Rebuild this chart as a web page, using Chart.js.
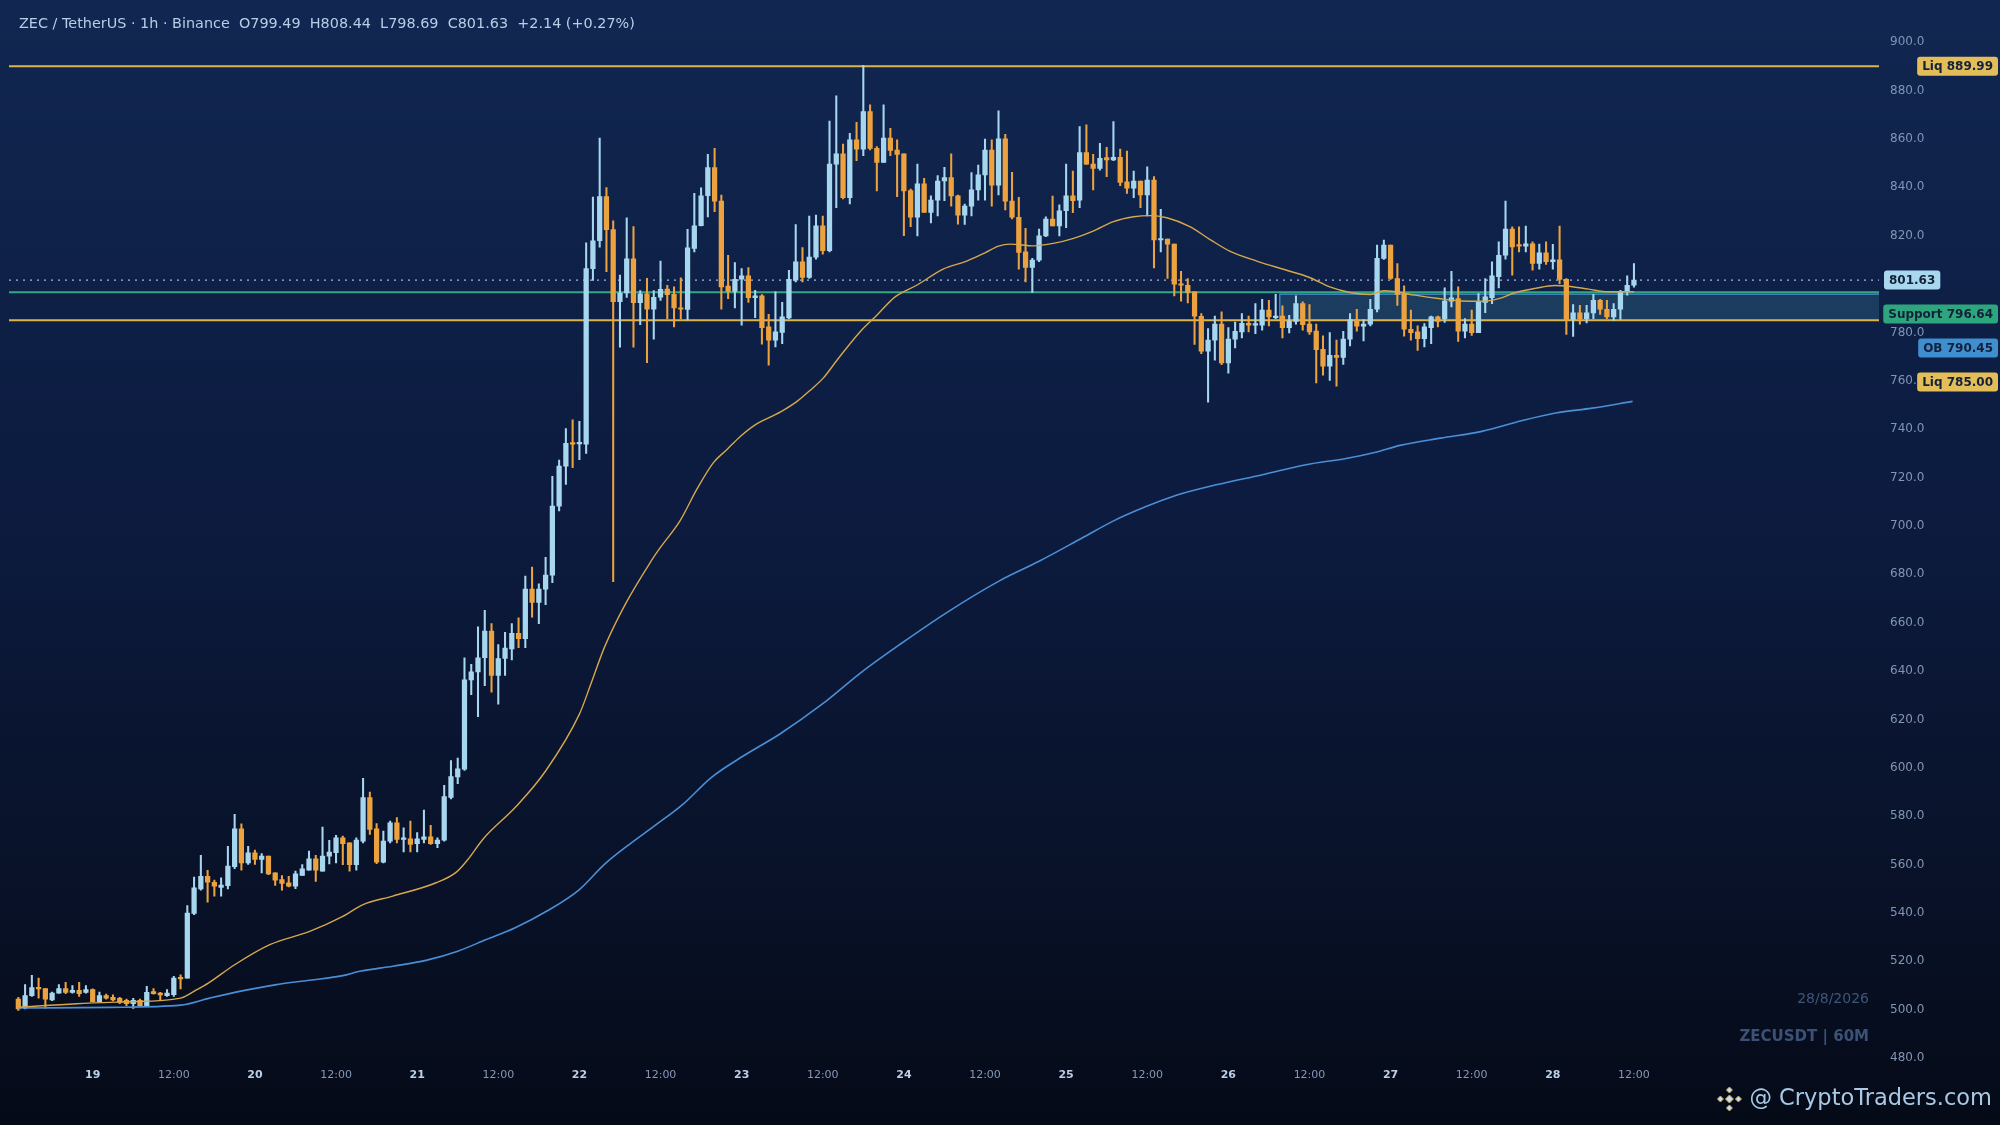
<!DOCTYPE html>
<html>
<head>
<meta charset="utf-8">
<title>ZEC / TetherUS 1h</title>
<script src="https://cdn.jsdelivr.net/npm/chart.js@4.4.1/dist/chart.umd.min.js"></script>
<style>
    html, body { margin: 0; padding: 0; background: #07101f; }
    #wrap { position: relative; width: 2000px; height: 1125px; }
</style>
</head>
<body>
<div id="wrap"><canvas id="zecChart"></canvas></div>
<script>
// 1h candles, 18 Aug 13:00 -> 28 Aug 12:00
const opens = [
    504.4, 500.7, 505.8, 509.2, 508.8, 504.1, 506.9, 508.8, 507.2, 508.0,
    507.2, 508.3, 503.3, 505.9, 505.1, 504.7, 503.9, 502.5, 503.9, 501.7,
    507.5, 506.9, 505.8, 506.2, 513.4, 513.1, 539.8, 550.0, 555.2, 552.7,
    550.6, 551.3, 559.1, 574.8, 560.7, 564.9, 562.1, 563.5, 556.6, 553.8,
    552.5, 551.1, 555.5, 557.7, 562.4, 557.3, 563.5, 564.9, 571.1, 569.0,
    560.0, 569.7, 587.7, 574.8, 561.0, 569.7, 577.3, 570.4, 570.7, 568.7,
    570.4, 571.5, 568.7, 570.1, 587.8, 596.2, 599.5, 636.4, 639.7, 645.5,
    656.5, 638.2, 645.2, 649.2, 655.6, 653.4, 673.9, 668.4, 673.9, 679.7,
    708.2, 724.7, 734.2, 733.9, 733.8, 806.4, 817.9, 836.2, 822.5, 792.7,
    796.3, 810.4, 792.3, 796.0, 789.6, 794.6, 797.9, 795.8, 790.1, 789.5,
    814.7, 824.1, 836.5, 848.1, 834.3, 799.2, 797.0, 802.0, 803.4, 794.4,
    795.1, 782.3, 776.8, 780.0, 786.0, 801.6, 809.2, 802.7, 811.1, 824.1,
    813.8, 849.6, 853.8, 835.7, 859.6, 855.8, 871.3, 856.1, 850.3, 860.3,
    855.4, 853.8, 838.6, 827.6, 841.4, 829.6, 834.7, 842.6, 844.0, 836.5,
    828.5, 832.2, 838.9, 845.1, 855.4, 840.9, 860.0, 834.3, 827.6, 813.3,
    806.9, 809.9, 819.9, 826.9, 824.0, 830.3, 836.5, 834.7, 854.3, 849.6,
    847.8, 852.3, 851.3, 852.4, 842.3, 839.6, 842.6, 836.8, 843.0, 818.2,
    818.6, 816.5, 799.9, 799.5, 796.8, 786.7, 772.3, 776.8, 783.4, 767.4,
    777.2, 780.2, 783.8, 783.0, 783.0, 789.2, 786.1, 786.8, 782.0, 784.6,
    791.9, 783.4, 780.6, 773.0, 766.0, 770.5, 769.7, 777.2, 785.3, 782.6,
    783.4, 789.6, 810.6, 816.1, 802.3, 796.1, 781.3, 780.2, 777.4, 782.0,
    786.4, 785.7, 792.9, 794.0, 780.5, 783.4, 779.9, 792.4, 794.4, 803.0,
    811.9, 822.7, 816.1, 815.7, 816.6, 808.5, 812.9, 809.2, 810.0, 802.0,
    785.4, 788.1, 785.7, 788.1, 793.3, 789.6, 786.4, 789.6, 797.0, 799.49,
];
const highs = [
    505.1, 510.4, 514.2, 513.1, 508.8, 507.3, 510.4, 511.3, 510.0, 511.3,
    510.0, 508.6, 507.3, 506.5, 506.2, 505.1, 504.4, 504.7, 504.4, 509.7,
    508.8, 507.2, 508.3, 513.8, 514.4, 543.1, 554.8, 563.8, 557.6, 553.6,
    554.5, 567.6, 580.8, 576.9, 567.6, 566.0, 564.6, 563.5, 556.6, 555.5,
    555.2, 557.3, 560.0, 565.6, 563.8, 575.5, 570.0, 572.1, 571.8, 569.0,
    571.1, 595.7, 590.0, 577.0, 573.9, 578.0, 579.4, 575.2, 578.0, 573.2,
    582.5, 576.2, 571.1, 592.8, 603.0, 604.0, 645.5, 642.8, 658.3, 665.1,
    659.6, 651.0, 656.0, 659.6, 662.0, 679.3, 683.0, 676.1, 687.0, 720.5,
    727.2, 740.2, 743.9, 743.3, 817.0, 836.0, 860.3, 839.9, 826.1, 803.7,
    827.4, 823.8, 797.3, 802.4, 797.3, 809.5, 799.5, 798.8, 802.6, 822.6,
    837.5, 839.8, 853.6, 856.1, 836.8, 811.9, 808.9, 806.4, 806.8, 797.4,
    795.6, 787.5, 796.8, 792.4, 805.7, 824.6, 815.1, 828.1, 828.5, 828.1,
    867.4, 877.8, 857.9, 862.3, 866.9, 890.4, 874.1, 856.8, 874.1, 864.4,
    859.6, 853.8, 839.3, 849.6, 843.7, 836.5, 844.8, 848.3, 853.8, 836.8,
    833.1, 846.1, 849.2, 859.9, 859.6, 871.6, 861.9, 846.2, 835.8, 823.0,
    810.6, 822.7, 827.8, 836.4, 832.7, 849.6, 846.7, 865.1, 865.8, 853.6,
    858.2, 856.5, 867.2, 855.8, 855.0, 846.7, 842.6, 848.5, 844.4, 830.9,
    818.6, 816.5, 805.3, 802.3, 796.8, 787.8, 781.6, 786.8, 788.5, 782.0,
    784.3, 787.8, 786.8, 791.9, 793.7, 793.3, 795.7, 791.0, 787.1, 795.1,
    792.6, 791.5, 783.4, 778.6, 779.9, 776.8, 780.5, 787.8, 789.5, 785.3,
    793.7, 816.1, 818.2, 816.1, 808.5, 799.3, 789.2, 782.7, 783.7, 786.8,
    786.8, 798.4, 805.3, 798.8, 785.7, 789.2, 796.1, 802.3, 809.2, 817.5,
    834.3, 823.7, 823.7, 824.0, 817.5, 816.5, 817.5, 816.4, 824.0, 802.3,
    791.5, 791.2, 791.2, 795.7, 793.7, 793.3, 791.9, 797.4, 803.4, 808.44,
];
const lows = [
    499.7, 500.3, 505.5, 504.8, 500.7, 503.8, 506.9, 506.6, 506.9, 505.5,
    506.9, 503.3, 503.0, 504.4, 503.7, 502.5, 501.7, 500.6, 501.7, 501.7,
    506.4, 503.9, 505.5, 505.5, 508.6, 513.1, 539.3, 549.4, 544.5, 547.0,
    547.0, 550.0, 558.3, 557.7, 560.1, 560.1, 556.6, 555.8, 551.4, 549.4,
    550.8, 550.1, 555.5, 557.7, 553.1, 557.3, 560.3, 560.7, 560.0, 557.3,
    557.7, 569.0, 572.5, 560.4, 560.7, 569.0, 569.0, 565.2, 565.2, 565.2,
    569.0, 568.3, 567.0, 569.7, 587.2, 593.5, 598.9, 630.3, 621.2, 634.0,
    631.3, 626.3, 638.2, 644.6, 649.7, 649.7, 662.3, 659.6, 667.5, 676.6,
    706.2, 717.2, 724.1, 727.4, 730.0, 801.5, 815.2, 805.1, 677.0, 773.9,
    794.5, 773.9, 783.2, 767.5, 777.2, 793.2, 785.7, 782.3, 785.7, 785.1,
    813.3, 824.0, 827.8, 829.9, 789.6, 794.0, 790.1, 783.0, 792.4, 786.1,
    775.1, 766.5, 774.0, 775.4, 785.7, 800.9, 800.9, 802.3, 810.3, 812.4,
    813.3, 831.6, 835.2, 833.1, 851.0, 853.1, 855.4, 838.5, 850.3, 853.1,
    836.1, 820.0, 823.7, 819.9, 829.6, 825.3, 828.2, 834.5, 832.2, 824.8,
    824.7, 828.2, 834.7, 834.7, 832.2, 836.8, 830.6, 826.9, 806.2, 800.9,
    796.5, 809.2, 819.6, 824.0, 819.9, 823.3, 829.5, 831.6, 849.5, 838.9,
    847.1, 844.4, 851.0, 840.7, 837.5, 835.7, 831.6, 828.2, 806.7, 813.3,
    802.3, 795.1, 792.9, 792.2, 775.0, 771.2, 751.2, 768.5, 766.7, 763.2,
    773.6, 777.7, 780.2, 779.5, 780.9, 782.7, 785.7, 777.7, 779.8, 783.4,
    780.9, 779.2, 759.1, 762.3, 760.2, 757.8, 766.8, 774.4, 780.5, 776.5,
    782.7, 788.5, 810.2, 801.9, 791.2, 778.5, 776.8, 772.6, 774.0, 775.4,
    782.3, 784.1, 790.5, 776.3, 777.7, 778.8, 779.9, 788.2, 791.9, 798.4,
    810.3, 803.7, 813.3, 813.3, 805.7, 806.2, 808.1, 806.2, 800.2, 779.2,
    778.4, 783.4, 783.9, 785.7, 787.4, 785.7, 785.0, 785.4, 795.4, 798.69,
];
const closes = [
    500.3, 505.9, 509.2, 508.6, 504.4, 506.9, 508.8, 507.2, 508.0, 506.6,
    508.3, 503.3, 505.9, 504.8, 504.1, 503.0, 502.5, 503.9, 501.7, 507.2,
    506.6, 506.1, 506.9, 513.1, 512.7, 540.0, 550.4, 555.2, 552.7, 551.1,
    551.5, 559.4, 574.8, 560.7, 564.9, 562.1, 563.5, 556.2, 553.6, 552.2,
    551.1, 556.2, 558.3, 562.4, 557.7, 563.5, 565.2, 571.1, 568.7, 560.0,
    570.1, 587.7, 574.5, 561.0, 569.7, 577.3, 570.4, 571.1, 568.3, 570.7,
    571.5, 568.7, 570.1, 588.1, 596.4, 599.6, 636.4, 639.7, 645.5, 656.5,
    638.2, 645.2, 649.5, 655.6, 653.4, 673.9, 668.4, 673.9, 679.7, 708.2,
    724.7, 734.2, 733.8, 734.2, 806.4, 817.9, 836.2, 822.5, 792.7, 796.3,
    810.4, 792.3, 796.0, 789.6, 794.5, 797.8, 795.6, 790.1, 789.6, 815.0,
    824.1, 836.5, 848.1, 834.3, 798.8, 797.0, 802.0, 803.4, 794.4, 795.1,
    782.0, 776.8, 780.2, 786.4, 802.0, 809.2, 802.7, 811.1, 824.1, 813.8,
    849.6, 853.8, 835.7, 859.6, 855.8, 871.3, 856.1, 850.3, 860.3, 855.2,
    853.6, 838.5, 827.6, 841.4, 829.6, 834.7, 842.6, 844.0, 836.4, 828.5,
    832.2, 838.9, 845.1, 855.4, 840.9, 860.0, 834.3, 827.6, 813.1, 806.9,
    809.9, 819.9, 826.9, 824.0, 830.3, 836.5, 834.5, 854.3, 849.6, 847.8,
    852.0, 851.3, 852.4, 842.0, 839.6, 842.6, 836.8, 843.0, 818.2, 818.6,
    816.5, 799.9, 799.5, 796.5, 786.7, 772.3, 776.8, 783.4, 767.4, 777.2,
    780.5, 783.8, 783.0, 783.5, 789.2, 786.4, 786.8, 782.0, 784.6, 791.9,
    783.2, 780.2, 772.9, 766.0, 770.5, 769.7, 777.2, 785.3, 782.6, 783.5,
    789.6, 810.6, 816.1, 802.3, 795.7, 781.3, 779.9, 777.4, 782.3, 786.4,
    784.6, 793.0, 794.3, 780.5, 783.4, 779.9, 792.6, 794.7, 803.4, 811.9,
    822.7, 815.4, 815.7, 816.6, 808.5, 812.9, 809.2, 810.0, 801.9, 785.4,
    788.1, 785.7, 788.1, 793.3, 789.6, 786.4, 789.6, 797.0, 799.5, 801.63,
];

// moving averages at these candle positions
const fastMaIdx = [
    0, 8.6, 16, 24, 26.4, 28.1, 32, 37.2, 43.1, 48, 51, 55.4, 61.8, 64.8, 66.7,
    68.7, 73.7, 78, 83, 84.6, 86.7, 89.8, 93.5, 94.9, 97.9, 100.4, 102.8, 104.8,
    106.8, 109, 111.2, 112.9, 115.2, 117.1, 119.1, 121.1, 124.5, 127, 129.7,
    132.9, 136.8, 140.3, 143, 145, 146.7, 150.2, 153.1, 156.1, 159, 162, 165,
    167.4, 169.9, 173.3, 176.3, 179.2, 183.2, 188.1, 191.1, 194, 197, 200, 202,
    203.7, 206.6, 210.1, 213.5, 216.5, 219, 221.4, 224.4, 227.3, 229.3, 232.3,
    235.2, 239,
];
const fastMaVal = [
    501.0, 502.5, 503.3, 504.8, 508.3, 511.0, 518.6, 526.9, 532.4, 538.6, 543.5, 547.0, 552.5, 556.9, 562.8,
    570.4, 584.2, 598.7, 622.2, 633.9, 649.8, 667.7, 685.0, 690.8, 702.2, 715.3, 726.1, 731.5,
    737.0, 741.8, 745.0, 747.4, 751.5, 756.0, 761.2, 768.5, 780.2, 787.1, 794.7,
    799.5, 806.2, 809.5, 812.9, 815.7, 816.5, 815.8, 816.8, 818.9, 821.9, 825.8, 827.8,
    828.3, 827.4, 823.7, 818.4, 813.6, 809.5, 805.3, 802.6, 798.8, 796.5, 795.7, 797.2,
    796.8, 795.4, 794.0, 793.0, 792.9, 794.0, 796.4, 798.2, 799.4, 799.1, 797.9,
    796.8, 796.8,
];
const slowMaIdx = [
    0, 13.5, 24, 28.3, 33.3, 38.2, 43.1, 48, 50.5, 55.4, 60.3, 65, 69.2, 73.5,
    78.2, 83, 86.7, 90.4, 94.1, 98.3, 102.5, 107.3, 112.6, 118.9, 124.7, 130.5,
    137.4, 145.2, 151, 157.3, 162.1, 167, 171.2, 177.2, 183.9, 190.5, 196.6,
    200.8, 204.4, 210.4, 216.5, 222.5, 227.4, 232.8, 238.8,
];
const slowMaVal = [
    500.7, 501.0, 501.9, 504.8, 507.9, 510.4, 512.2, 514.1, 515.9, 518.0, 520.4, 524.2, 529.0, 533.9,
    540.8, 549.7, 560.1, 568.4, 576.0, 584.9, 596.0, 605.0, 613.9, 626.3, 639.5, 651.2,
    664.3, 677.4, 685.4, 694.9, 702.2, 708.2, 712.6, 717.0, 721.1, 725.3, 728.0,
    730.5, 733.3, 736.3, 739.1, 743.6, 746.7, 748.7, 751.5,
];

const tickIdx = [11, 23, 35, 47, 59, 71, 83, 95, 107, 119, 131, 143, 155, 167, 179, 191, 203, 215, 227, 239];
const tickText = ['19', '12:00', '20', '12:00', '21', '12:00', '22', '12:00', '23', '12:00',
    '24', '12:00', '25', '12:00', '26', '12:00', '27', '12:00', '28', '12:00'];
const priceTicks = [480, 500, 520, 540, 560, 580, 600, 620, 640, 660, 680, 700, 720, 740, 760, 780, 800, 820, 840, 860, 880, 900];

const levelNames = ['Liq', 'Support', 'OB', 'Liq'];
const levelValues = [889.99, 796.64, 790.45, 785.00];
const zoneLow = 785.00;
const zoneHigh = 796.64;
const zoneStartIdx = 186.6;

const UP = '#a7d7ef';
const DOWN = '#eca23f';
const YELLOW = '#dcb44c';
const candleIdx = opens.map((_, i) => i);
const candleColor = candleIdx.map(i => closes[i] >= opens[i] ? UP : DOWN);

const last = closes.length - 1;
const change = closes[last] - opens[last];
const headerText = 'ZEC / TetherUS \u00b7 1h \u00b7 Binance  O' + opens[last].toFixed(2) +
    '  H' + highs[last].toFixed(2) + '  L' + lows[last].toFixed(2) + '  C' + closes[last].toFixed(2) +
    '  +' + change.toFixed(2) + ' (+' + (change / opens[last] * 100).toFixed(2) + '%)';

const isDayTick = ctx => !!ctx.tick && (ctx.tick.value - 11) % 24 === 0;

const backdrop = {
    id: 'backdrop',
    beforeDraw(chart) {
        const { ctx, width, height } = chart;
        const g = ctx.createLinearGradient(0, 0, 0, height);
        g.addColorStop(0, '#112751');
        g.addColorStop(0.45, '#0c1b3f');
        g.addColorStop(0.8, '#081127');
        g.addColorStop(1, '#050a17');
        ctx.save();
        ctx.fillStyle = g;
        ctx.fillRect(0, 0, width, height);
        ctx.restore();
    },
};

function hline(ctx, area, y, color, width, dash) {
    ctx.save();
    ctx.strokeStyle = color;
    ctx.lineWidth = width;
    ctx.setLineDash(dash || []);
    ctx.beginPath();
    ctx.moveTo(area.left, y);
    ctx.lineTo(area.right, y);
    ctx.stroke();
    ctx.restore();
}

const levels = {
    id: 'levels',
    beforeDatasetsDraw(chart) {
        const { ctx, chartArea, scales } = chart;
        const x0 = scales.x.getPixelForValue(zoneStartIdx);
        const yTop = scales.y.getPixelForValue(zoneHigh);
        const yBot = scales.y.getPixelForValue(zoneLow);
        ctx.save();
        ctx.fillStyle = 'rgba(60, 120, 150, 0.32)';
        ctx.fillRect(x0, yTop, chartArea.right - x0, yBot - yTop);
        ctx.strokeStyle = '#3f7fb8';
        ctx.lineWidth = 1.5;
        ctx.beginPath();
        ctx.moveTo(x0, yBot);
        ctx.lineTo(x0, yTop + 2);
        ctx.lineTo(chartArea.right, yTop + 2);
        ctx.stroke();
        ctx.restore();

        hline(ctx, chartArea, scales.y.getPixelForValue(levelValues[0]), YELLOW, 2);
        hline(ctx, chartArea, scales.y.getPixelForValue(closes[last]), '#9dbbdc', 1.3, [2, 5]);
        hline(ctx, chartArea, yTop, '#34a882', 2);
        hline(ctx, chartArea, yBot, YELLOW, 2);
    },
};

function tag(ctx, text, x, y, bg, alignRight) {
    ctx.font = 'bold 12px "DejaVu Sans"';
    const w = ctx.measureText(text).width + 10;
    const left = alignRight ? x - w : x;
    ctx.fillStyle = bg;
    ctx.beginPath();
    ctx.roundRect(left, y - 9.5, w, 19, 3);
    ctx.fill();
    ctx.fillStyle = '#13203b';
    ctx.textAlign = 'left';
    ctx.textBaseline = 'middle';
    ctx.fillText(text, left + 5, y + 0.5);
}

const overlay = {
    id: 'overlay',
    afterDraw(chart) {
        const { ctx, scales } = chart;
        ctx.save();

        // price tags on the right
        const colors = ['#e3bd58', '#2ea67d', '#3f8fcf', '#e3bd58'];
        tag(ctx, levelNames[0] + ' ' + levelValues[0].toFixed(2), 1998, scales.y.getPixelForValue(levelValues[0]), colors[0], true);
        let prev = scales.y.getPixelForValue(closes[last]);
        tag(ctx, closes[last].toFixed(2), 1884, prev, '#a9d8ee', false);
        for (let i = 1; i < levelValues.length; i++) {
            const y = Math.max(scales.y.getPixelForValue(levelValues[i]), prev + 34);
            tag(ctx, levelNames[i] + ' ' + levelValues[i].toFixed(2), 1998, y, colors[i], true);
            prev = y;
        }

        // header
        ctx.font = '14.4px "DejaVu Sans"';
        ctx.fillStyle = '#b8cde6';
        ctx.textAlign = 'left';
        ctx.textBaseline = 'middle';
        ctx.fillText(headerText, 19, 24);

        // watermark
        ctx.textAlign = 'right';
        ctx.font = '14px "DejaVu Sans"';
        ctx.fillStyle = '#3f5578';
        ctx.fillText('28/8/2026', 1869, 999);
        ctx.font = 'bold 15px "DejaVu Sans"';
        ctx.fillStyle = '#3b5276';
        ctx.fillText('ZECUSDT | 60M', 1869, 1037);

        // site mark
        ctx.font = '22.5px "DejaVu Sans"';
        ctx.fillStyle = '#a9c9e6';
        ctx.fillText('@ CryptoTraders.com', 1992, 1099);
        const cx = 1992 - ctx.measureText('@ CryptoTraders.com').width - 20;
        const cy = 1099;
        const diamonds = [[0, 0, 4], [-9, 0, 3], [9, 0, 3], [0, -9, 3], [0, 9, 3]];
        ctx.fillStyle = '#c9def2';
        ctx.strokeStyle = '#c9a24a';
        ctx.lineWidth = 1;
        diamonds.forEach(([dx, dy, r]) => {
            ctx.beginPath();
            ctx.moveTo(cx + dx, cy + dy - r);
            ctx.lineTo(cx + dx + r, cy + dy);
            ctx.lineTo(cx + dx, cy + dy + r);
            ctx.lineTo(cx + dx - r, cy + dy);
            ctx.closePath();
            ctx.fill();
            ctx.stroke();
        });
        ctx.restore();
    },
};

new Chart(document.getElementById('zecChart'), {
    type: 'bar',
    data: {
        datasets: [
            {
                type: 'line',
                label: 'MA fast',
                data: fastMaIdx.map((x, i) => ({ x: x, y: fastMaVal[i] })),
                borderColor: '#d6a84c',
                borderWidth: 1.4,
                pointRadius: 0,
                cubicInterpolationMode: 'monotone',
                order: 0,
            },
            {
                type: 'line',
                label: 'MA slow',
                data: slowMaIdx.map((x, i) => ({ x: x, y: slowMaVal[i] })),
                borderColor: '#4a8fd6',
                borderWidth: 1.6,
                pointRadius: 0,
                cubicInterpolationMode: 'monotone',
                order: 0,
            },
            {
                label: 'Body',
                data: candleIdx.map(i => ({ x: i, y: [opens[i], closes[i]] })),
                backgroundColor: candleColor,
                barThickness: 4.6,
                minBarLength: 1.5,
                grouped: false,
                order: 1,
            },
            {
                label: 'Wick',
                data: candleIdx.map(i => ({ x: i, y: [lows[i], highs[i]] })),
                backgroundColor: candleColor,
                barThickness: 1.4,
                grouped: false,
                order: 2,
            },
        ],
    },
    options: {
        responsive: true,
        maintainAspectRatio: false,
        animation: false,
        devicePixelRatio: 1,
        layout: {
            padding: { left: 9, top: 10, right: 0, bottom: 0 },
        },
        plugins: {
            legend: { display: false },
            tooltip: { enabled: false },
        },
        scales: {
            x: {
                type: 'linear',
                offset: false,
                min: -1.38,
                max: 275.25,
                grid: { display: false, drawTicks: false },
                border: { display: false },
                afterBuildTicks: scale => {
                    scale.ticks = tickIdx.map(v => ({ value: v }));
                },
                afterFit: scale => {
                    scale.height = 63;
                },
                ticks: {
                    autoSkip: false,
                    maxRotation: 0,
                    padding: 7,
                    callback: value => tickText[tickIdx.indexOf(value)],
                    color: ctx => isDayTick(ctx) ? '#bccfe8' : '#8598b7',
                    font: ctx => ({
                        family: '"DejaVu Sans"',
                        size: 11,
                        weight: isDayTick(ctx) ? 'bold' : 'normal',
                    }),
                },
            },
            y: {
                position: 'right',
                min: 478.4,
                max: 909.9,
                grid: { display: false, drawTicks: false },
                border: { display: false },
                afterBuildTicks: scale => {
                    scale.ticks = priceTicks.map(v => ({ value: v }));
                },
                afterFit: scale => {
                    scale.width = 121;
                },
                ticks: {
                    padding: 11,
                    color: '#8195b5',
                    font: { family: '"DejaVu Sans"', size: 12 },
                    callback: value => value.toFixed(1),
                },
            },
        },
    },
    plugins: [backdrop, levels, overlay],
});
</script>
</body>
</html>
